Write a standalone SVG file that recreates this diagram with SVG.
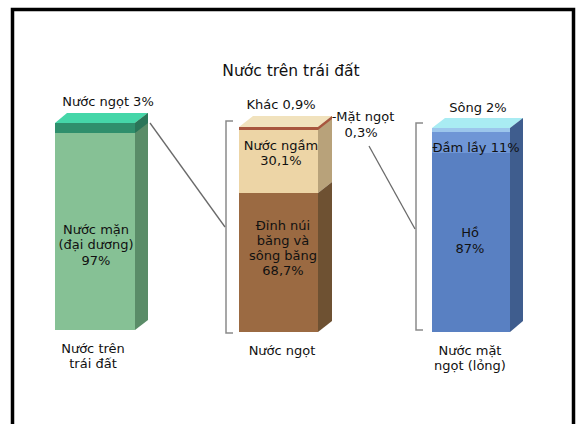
<svg xmlns="http://www.w3.org/2000/svg" width="576" height="424" viewBox="0 0 576 424">
<style>
text{font-family:"DejaVu Sans","Liberation Sans",sans-serif;font-size:13px;fill:#111;text-anchor:middle}
.t{font-size:15.5px}
.br{fill:none;stroke:#8a8a8a;stroke-width:1.5}
.ln{fill:none;stroke:#6a6a6a;stroke-width:1.3}
</style>
<rect x="0" y="0" width="576" height="424" fill="#fff"/>
<rect x="12.5" y="9.5" width="561" height="430" fill="none" stroke="#000" stroke-width="3.5"/>
<text class="t" x="291" y="76">Nước trên trái đất</text>

<g id="bar-earth">
  <polygon points="55,123 67,113 148,113 135,123" fill="#45d6a8"/>
  <rect x="55" y="123" width="80" height="10" fill="#2f8f6c"/>
  <rect x="55" y="133" width="80" height="197" fill="#86c195"/>
  <polygon points="135,123 148,113 148,320 135,330" fill="#5a8c68"/>
  <polygon points="135,123 148,113 148,123 135,133" fill="#2a7558"/>
  <text x="96" y="234">Nước mặn</text>
  <text x="96" y="249">(đại dương)</text>
  <text x="96" y="265">97%</text>
  <text x="108" y="106">Nước ngọt 3%</text>
  <text x="93" y="353">Nước trên</text>
  <text x="93" y="368">trái đất</text>
</g>

<g id="bar-fresh">
  <polygon points="239,127 253,116 332,116 318,127" fill="#f1e2bd"/>
  <rect x="239" y="127" width="79" height="66" fill="#edd5a6"/>
  <rect x="239" y="127" width="79" height="3" fill="#a8563e"/>
  <rect x="239" y="193" width="79" height="139" fill="#9b6a42"/>
  <polygon points="318,127 332,116 332,182 318,193" fill="#b8a27a"/>
  <polygon points="318,193 332,182 332,321 318,332" fill="#6e5132"/>
  <polygon points="318,127 332,116 332,119 318,130" fill="#a8563e"/>
  <text x="281" y="109">Khác 0,9%</text>
  <text x="281" y="150">Nước ngầm</text>
  <text x="281" y="165">30,1%</text>
  <text x="283" y="230">Đỉnh núi</text>
  <text x="283" y="245">băng và</text>
  <text x="283" y="260">sông băng</text>
  <text x="283" y="275">68,7%</text>
  <text x="363" y="121">-Mặt ngọt</text>
  <text x="361" y="137">0,3%</text>
  <text x="282" y="355">Nước ngọt</text>
</g>

<g id="bar-surface">
  <polygon points="432,128 445,118 523,118 510,128" fill="#a9ecf3"/>
  <rect x="432" y="128" width="78" height="4" fill="#9cc6ec"/>
  <rect x="432" y="132" width="78" height="21" fill="#6f96d6"/>
  <rect x="432" y="153" width="78" height="179" fill="#5980c2"/>
  <polygon points="510,128 523,118 523,321 510,332" fill="#3f5d8e"/>
  <text x="478" y="112">Sông 2%</text>
  <text x="476" y="152">Đầm lầy 11%</text>
  <text x="470" y="237">Hồ</text>
  <text x="470" y="253">87%</text>
  <text x="470" y="355">Nước mặt</text>
  <text x="470" y="370">ngọt (lỏng)</text>
</g>

<g id="connectors">
  <path class="br" d="M233,121 H226 V333 H233"/>
  <path class="br" d="M423,123 H416 V330 H423"/>
  <path class="ln" d="M150,123 L225,227"/>
  <path class="ln" d="M369,146 L415,229"/>
</g>
</svg>
